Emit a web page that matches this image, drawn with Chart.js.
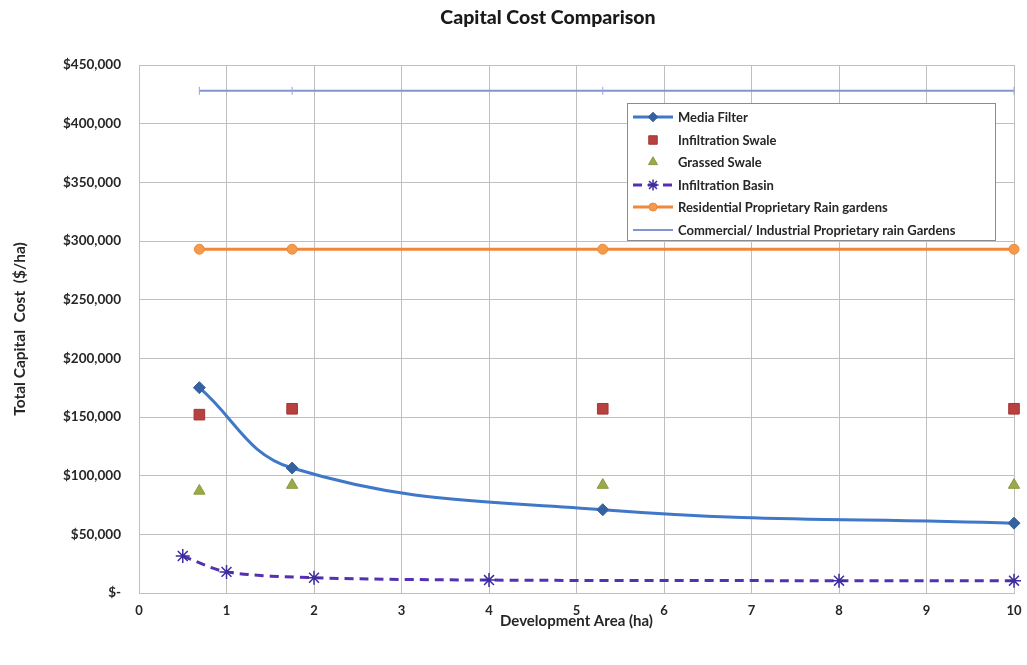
<!DOCTYPE html>
<html>
<head>
<meta charset="utf-8">
<title>Capital Cost Comparison</title>
<script src="https://cdn.jsdelivr.net/npm/chart.js@4/dist/chart.umd.min.js"></script>
<style>
  html, body { margin: 0; padding: 0; background: #fff; }
  #wrap { width: 1027px; height: 665px; }
</style>
</head>
<body>
<div id="wrap"><canvas id="cost"></canvas></div>
<script>
/* ── Data ── */
const siteArea      = [0.69, 1.75, 5.3, 10];            // ha, shared by most series
const mediaFilter   = [175000, 106500, 71000, 59500];
const infilSwale    = [152000, 157000, 157000, 157000];
const grassedSwale  = [87000, 92000, 92000, 92000];
const basinArea     = [0.5, 1, 2, 4, 8, 10];
const infilBasin    = [31500, 18000, 13000, 11000, 10500, 10500];
const residentialRG = [293000, 293000, 293000, 293000];
const commercialRG  = [428000, 428000, 428000, 428000];

const xTicks = [0, 1, 2, 3, 4, 5, 6, 7, 8, 9, 10];
const yTicks = [0, 50000, 100000, 150000, 200000, 250000, 300000, 350000, 400000, 450000];

const TITLE = 'Capital Cost Comparison';
const FONT = 'Lato, "Liberation Sans", sans-serif';
const pts = (xs, ys) => xs.map((x, i) => ({ x, y: ys[i] }));

/* ── Title + legend box, drawn by hand ── */
const boxLegend = {
  id: 'boxLegend',
  afterDraw(chart) {
    const { ctx, chartArea: a } = chart;
    ctx.save();
    ctx.font = '900 19.5px ' + FONT;
    ctx.fillStyle = '#1a1a1a';
    ctx.textAlign = 'center';
    ctx.textBaseline = 'middle';
    ctx.fillText(TITLE, 548, 18);

    const L = a.left + 488, T = a.top + 38, W = 368, H = 137;
    ctx.textAlign = 'left';
    ctx.fillStyle = '#fff';
    ctx.strokeStyle = '#8c8c8c';
    ctx.lineWidth = 1;
    ctx.fillRect(L, T, W, H);
    ctx.strokeRect(L + 0.5, T + 0.5, W, H);
    ctx.font = 'bold 13px ' + FONT;
    chart.data.datasets.forEach((ds, i) => {
      const y = Math.round(T + 14 + i * 22.6);
      if (ds.showLine) {
        ctx.beginPath();
        ctx.strokeStyle = ds.borderColor;
        ctx.lineWidth = ds.borderWidth;
        ctx.setLineDash(ds.borderDash || []);
        ctx.moveTo(L + 6, y); ctx.lineTo(L + 46, y);
        ctx.stroke();
        ctx.setLineDash([]);
      }
      if (ds.pointRadius > 0 && ds.pointStyle !== 'line') {
        ctx.fillStyle = ds.pointBackgroundColor;
        ctx.strokeStyle = ds.pointBorderColor;
        ctx.lineWidth = ds.pointBorderWidth;
        Chart.helpers.drawPoint(ctx, {
          pointStyle: ds.pointStyle, rotation: 0,
          radius: ds.pointRadius * 0.8, borderWidth: ds.pointBorderWidth
        }, L + 26, y);
      }
      ctx.fillStyle = '#262626';
      ctx.fillText(ds.label, L + 51, y + 1);
    });
    ctx.restore();
  }
};

/* ── Chart ── */
new Chart(document.getElementById('cost'), {
  type: 'scatter',
  data: {
    datasets: [
      { label: 'Media Filter', data: pts(siteArea, mediaFilter), showLine: true,
        borderColor: '#3f78c8', borderWidth: 3, tension: 0.4,
        pointStyle: 'rectRot', pointRadius: 6, pointBackgroundColor: '#35629f',
        pointBorderColor: '#35629f', pointBorderWidth: 1 },
      { label: 'Infiltration Swale', data: pts(siteArea, infilSwale), showLine: false,
        borderColor: '#b8403f', borderWidth: 0,
        pointStyle: 'rect', pointRadius: 7.5, pointBackgroundColor: '#b8403f',
        pointBorderColor: '#a33634', pointBorderWidth: 1 },
      { label: 'Grassed Swale', data: pts(siteArea, grassedSwale), showLine: false,
        borderColor: '#9aaa4a', borderWidth: 0,
        pointStyle: 'triangle', pointRadius: 6.5, pointBackgroundColor: '#9aaa4a',
        pointBorderColor: '#8a9a3c', pointBorderWidth: 1 },
      { label: 'Infiltration Basin', data: pts(basinArea, infilBasin), showLine: true,
        borderColor: '#5530b0', borderWidth: 3, borderDash: [9, 6], tension: 0.3,
        pointStyle: 'star', pointRadius: 7, pointBackgroundColor: '#3d2d9e',
        pointBorderColor: '#3d2d9e', pointBorderWidth: 1.5 },
      { label: 'Residential Proprietary Rain gardens', data: pts(siteArea, residentialRG), showLine: true,
        borderColor: '#f0873a', borderWidth: 3, tension: 0,
        pointStyle: 'circle', pointRadius: 5, pointBackgroundColor: '#f59a4a',
        pointBorderColor: '#e8893c', pointBorderWidth: 1 },
      { label: 'Commercial/ Industrial Proprietary rain Gardens', data: pts(siteArea, commercialRG), showLine: true,
        borderColor: '#8493d3', borderWidth: 2, tension: 0,
        pointStyle: 'line', rotation: 90, pointRadius: 4, pointBackgroundColor: '#8493d3',
        pointBorderColor: '#9aa6dc', pointBorderWidth: 1 }
    ]
  },
  options: {
    responsive: true,
    maintainAspectRatio: false,
    animation: false,
    clip: false,
    layout: { padding: { left: 0, right: 13, top: 65, bottom: 0 } },
    plugins: {
      legend: { display: false },
      tooltip: { enabled: false },
      title: { display: false }
    },
    scales: {
      x: {
        type: 'linear', min: 0, max: 10,
        afterBuildTicks: s => { s.ticks = xTicks.map(v => ({ value: v })); },
        afterFit: s => { s.height = 72; s.paddingLeft = 0; s.paddingRight = 0; },
        grid: { color: '#bfbfbf', lineWidth: 1, drawTicks: false },
        border: { color: '#bfbfbf' },
        ticks: { padding: 10, color: '#262626', font: { family: FONT, size: 13, weight: 'bold' } },
        title: {
          display: true, text: 'Development Area (ha)', color: '#262626',
          font: { family: FONT, size: 15, weight: 'bold', lineHeight: 1.2 },
          padding: { top: 0, bottom: 35 }
        }
      },
      y: {
        type: 'linear', min: 0, max: 450000,
        afterBuildTicks: s => { s.ticks = yTicks.map(v => ({ value: v })); },
        afterFit: s => { s.width = 139; },
        grid: { color: '#bfbfbf', lineWidth: 1, drawTicks: false },
        border: { color: '#bfbfbf' },
        ticks: {
          padding: 18, color: '#262626', font: { family: FONT, size: 13.5, weight: 'bold' },
          callback: v => v === 0 ? '$-' : '$' + v.toLocaleString('en-US')
        },
        title: {
          display: true, text: 'Total Capital  Cost  ($/ha)', color: '#262626',
          font: { family: FONT, size: 15.5, weight: 'bold', lineHeight: 1.2 },
          padding: { top: 11, bottom: 0 }
        }
      }
    }
  },
  plugins: [boxLegend]
});
</script>
</body>
</html>
